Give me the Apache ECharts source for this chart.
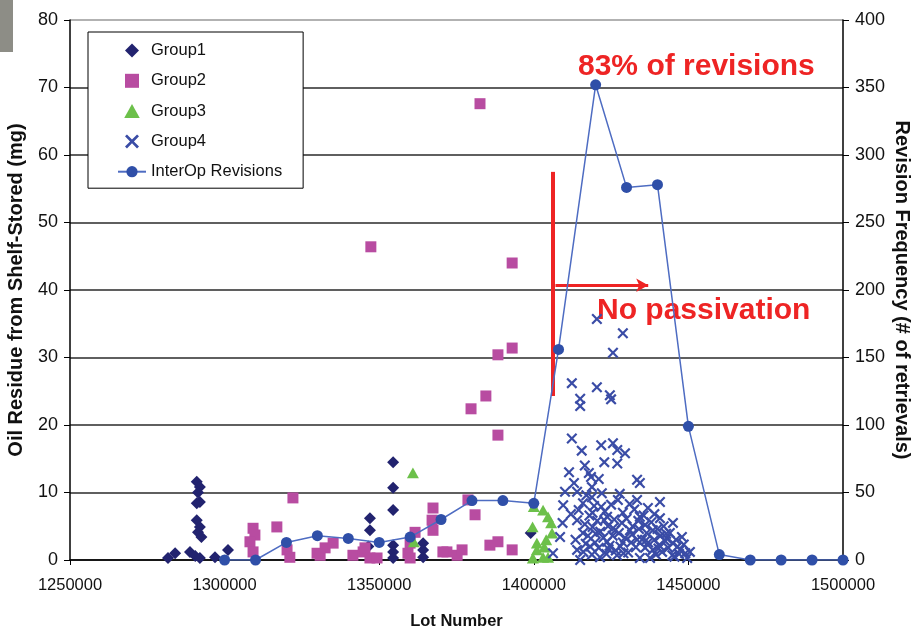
<!DOCTYPE html>
<html>
<head>
<meta charset="utf-8">
<title>Oil residue vs lot number</title>
<script src="https://cdn.jsdelivr.net/npm/echarts@6/dist/echarts.min.js"></script>
<style>
  html, body { margin: 0; padding: 0; background: #fff; }
  #chart { width: 922px; height: 632px; }
</style>
</head>
<body>
<div id="chart"></div>
<script>
// [lot number, oil residue mg]
const group1Data = [
  [1281700, 0.3], [1284000, 1.0], [1288800, 1.2], [1290500, 0.6], [1292000, 0.3], [1296900, 0.4], [1301100, 1.5],
  [1291000, 11.6], [1292000, 10.8], [1291400, 10.0], [1292000, 8.6], [1291000, 8.4], [1291000, 5.9],
  [1292000, 4.9], [1291400, 4.1], [1292500, 3.4],
  [1354500, 14.5], [1354500, 10.7], [1354500, 7.4], [1347000, 6.2], [1347000, 4.4], [1346500, 2.0],
  [1354500, 2.2], [1354500, 1.2], [1354500, 0.3], [1364200, 2.5], [1364200, 1.5], [1364200, 0.4],
  [1399000, 4.0]
]
const group2Data = [
  [1382600, 67.6], [1347300, 46.4], [1393000, 44.0], [1388400, 30.4], [1393000, 31.4], [1384500, 24.3],
  [1379700, 22.4], [1388400, 18.5], [1322100, 9.2], [1378700, 8.9], [1381000, 6.7], [1367400, 7.7],
  [1367100, 5.9], [1367400, 4.4], [1361600, 4.1], [1360000, 2.5], [1359300, 1.0], [1371900, 1.2],
  [1375200, 0.7], [1376800, 1.5], [1385800, 2.2], [1388400, 2.7], [1393000, 1.5], [1316900, 4.9],
  [1309200, 4.7], [1309800, 3.7], [1308200, 2.7], [1309200, 1.2], [1320200, 1.5], [1321100, 0.4],
  [1329900, 1.0], [1332500, 1.8], [1335100, 2.5], [1330900, 0.7], [1341500, 0.7], [1344800, 1.2],
  [1345400, 1.8], [1347000, 0.3], [1349300, 0.3], [1370600, 1.2], [1360000, 0.3]
]
const group3Data = [
  [1360900, 12.9], [1361200, 2.7], [1400000, 7.9], [1403000, 7.4], [1404600, 6.4], [1405600, 5.5],
  [1399600, 4.9], [1405900, 4.0], [1404000, 3.0], [1401000, 2.5], [1403400, 1.9], [1401000, 1.5],
  [1399700, 0.3], [1403000, 0.4], [1404600, 0.4]
]
const group4Data = [
  [1420400, 35.7], [1428800, 33.6], [1425600, 30.7], [1412300, 26.2], [1420400, 25.6], [1424600, 24.4],
  [1415000, 23.9], [1415000, 22.8], [1425000, 23.8],
  [1412300, 18.0], [1415500, 16.2], [1421800, 17.0], [1425600, 17.3], [1427000, 16.3], [1429500, 15.8],
  [1422800, 14.5], [1427000, 14.3], [1411400, 13.0], [1417800, 12.9], [1418500, 12.3], [1433400, 11.9],
  [1434300, 11.4], [1413000, 11.4], [1421000, 12.0], [1416500, 14.0],
  [1410100, 10.1], [1414000, 10.1], [1418800, 10.8], [1418800, 9.3], [1427200, 8.9], [1433400, 8.9],
  [1409500, 8.1], [1415900, 8.4], [1421800, 7.9], [1440800, 8.6], [1436900, 7.7], [1431000, 8.3], [1427800, 9.8],
  [1409300, 5.5], [1414000, 5.9], [1423700, 6.4], [1428800, 7.0], [1434300, 6.4], [1440800, 6.2],
  [1436000, 5.2], [1445000, 5.5], [1439000, 6.8],
  [1408500, 3.4], [1415900, 4.0], [1419000, 4.9], [1425600, 4.7], [1431100, 4.4], [1438500, 4.4],
  [1447900, 3.4], [1443000, 3.2],
  [1406200, 1.0], [1414000, 1.5], [1418200, 2.0], [1423700, 2.7], [1428800, 2.6], [1433400, 3.0],
  [1445000, 2.5], [1447300, 1.5], [1450500, 1.2], [1438500, 1.5],
  [1415000, 0.0], [1421400, 0.4], [1426900, 0.7], [1434300, 0.3], [1444800, 0.7], [1449600, 0.3], [1437600, 0.3],
  [1412000, 6.8], [1413500, 3.0], [1414500, 7.4], [1416000, 1.2], [1416500, 5.3], [1417000, 9.6],
  [1417500, 3.6], [1418000, 6.6], [1418800, 0.8], [1419500, 8.0], [1419800, 2.6], [1420500, 5.8],
  [1421000, 1.8], [1421500, 4.2], [1422000, 9.9], [1422500, 3.3], [1423000, 7.2], [1423500, 0.9],
  [1424000, 5.0], [1424500, 2.1], [1425000, 8.2], [1425500, 3.6], [1426000, 6.0], [1426500, 1.4],
  [1427500, 4.0], [1428000, 2.0], [1428500, 5.5], [1429500, 3.3], [1430000, 6.1], [1430500, 1.1],
  [1431500, 2.6], [1432000, 5.0], [1432500, 7.5], [1433000, 1.9], [1434000, 4.6], [1435000, 3.0],
  [1435500, 6.6], [1436000, 1.8], [1436500, 4.0], [1437000, 2.6], [1438000, 5.6], [1439000, 3.0],
  [1439500, 0.8], [1440000, 4.6], [1440500, 2.2], [1441000, 3.6], [1441500, 1.2], [1442000, 5.0],
  [1442500, 2.8], [1443500, 1.8], [1444000, 4.0], [1445500, 0.5], [1446000, 3.0], [1446500, 2.0],
  [1447000, 0.9], [1448500, 2.3], [1449000, 1.0],
  [1416800, 2.4], [1419000, 7.0], [1420000, 3.9], [1422800, 5.9], [1424200, 1.6], [1426300, 4.4],
  [1429000, 1.0], [1431800, 3.8], [1433800, 5.8], [1436200, 2.9], [1440300, 1.7], [1442800, 3.9]
]
// InterOp revisions (# of retrievals), right axis
const revLots = [1300000, 1310000, 1320000, 1330000, 1340000, 1350000, 1360000, 1370000, 1380000, 1390000,
  1400000, 1408000, 1420000, 1430000, 1440000, 1450000, 1460000, 1470000, 1480000, 1490000, 1500000]
const revValues = [0, 0, 13, 18, 16, 13, 17, 30, 44, 44, 42, 156, 352, 276, 278, 99, 4, 0, 0, 0, 0]

const seriesNames = ['Group1', 'Group2', 'Group3', 'Group4', 'InterOp Revisions']

const baseFont = "'Liberation Sans', Arial, sans-serif"
// path symbols so the legend keeps their aspect
const diamondPath = 'path://M5,0L10,5L5,10L0,5Z'
const squarePath = 'path://M0,0L10,0L10,10L0,10Z'
const trianglePath = 'path://M5,0L10,9L0,9Z'
const crossPath = 'path://M1.4,0L5,3.6L8.6,0L10,1.4L6.4,5L10,8.6L8.6,10L5,6.4L1.4,10L0,8.6L3.6,5L0,1.4Z'
const red = '#ee2424'

const chartInstance = echarts.init(document.getElementById('chart'))

// top gridline (80) is lighter in the original
const splitColors = ['#2a2a2a', '#2a2a2a', '#2a2a2a', '#2a2a2a', '#2a2a2a', '#2a2a2a', '#2a2a2a', '#2a2a2a', '#999']

const initOption = {
  animation: false,
  backgroundColor: '#fff',
  grid: { left: 70, right: 79, top: 20, bottom: 72, containLabel: false, outerBoundsMode: 'none' },
  legend: {
    orient: 'vertical',
    left: 88,
    top: 32,
    data: seriesNames,
    itemWidth: 28,
    itemHeight: 14,
    itemGap: 13.3,
    padding: [10, 21, 8, 29],
    backgroundColor: '#fff',
    borderColor: '#000',
    borderWidth: 1,
    borderRadius: 0,
    textStyle: { fontFamily: baseFont, fontSize: 16.5, color: '#111' }
  },
  xAxis: {
    type: 'value',
    min: 1250000,
    max: 1500000,
    interval: 50000,
    name: 'Lot Number',
    nameLocation: 'middle',
    nameGap: 53,
    nameMoveOverlap: false,
    nameTextStyle: { fontFamily: baseFont, fontWeight: 'bold', fontSize: 16.5, color: '#111' },
    axisLine: { show: true, onZero: false, lineStyle: { color: '#000', width: 1.5 } },
    axisTick: { show: true, length: 5, lineStyle: { color: '#000' } },
    axisLabel: {
      fontFamily: baseFont,
      fontSize: 16.5,
      color: '#111',
      margin: 17,
      formatter: (v) => String(v)
    },
    splitLine: { show: false }
  },
  yAxis: [
    {
      type: 'value',
      min: 0,
      max: 80,
      interval: 10,
      name: 'Oil Residue from Shelf-Stored (mg)',
      nameLocation: 'middle',
      nameRotate: 90,
      nameGap: 44,
      nameMoveOverlap: false,
      nameTextStyle: { fontFamily: baseFont, fontWeight: 'bold', fontSize: 20, color: '#111' },
      axisLine: { show: true, lineStyle: { color: '#000', width: 1.5 } },
      axisTick: { show: true, length: 6, lineStyle: { color: '#000' } },
      axisLabel: { fontFamily: baseFont, fontSize: 18, color: '#111', margin: 12 },
      splitLine: { show: true, lineStyle: { color: splitColors, width: 1.5 } }
    },
    {
      type: 'value',
      min: 0,
      max: 400,
      interval: 50,
      name: 'Revision Frequency (# of retrievals)',
      nameLocation: 'middle',
      nameRotate: -90,
      nameGap: 49,
      nameMoveOverlap: false,
      nameTextStyle: { fontFamily: baseFont, fontWeight: 'bold', fontSize: 20, color: '#111' },
      axisLine: { show: true, lineStyle: { color: '#000', width: 1.5 } },
      axisTick: { show: true, length: 6, lineStyle: { color: '#000' } },
      axisLabel: { fontFamily: baseFont, fontSize: 18, color: '#111', margin: 12 },
      splitLine: { show: false }
    }
  ],
  series: [
    {
      name: 'Group1',
      type: 'scatter',
      symbol: diamondPath,
      symbolSize: 12,
      symbolKeepAspect: true,
      itemStyle: { color: '#22236f', opacity: 1 },
      data: group1Data
    },
    {
      name: 'Group2',
      type: 'scatter',
      symbol: squarePath,
      symbolSize: 11,
      symbolKeepAspect: true,
      itemStyle: { color: '#b84ca1', opacity: 1 },
      data: group2Data
    },
    {
      name: 'Group3',
      type: 'scatter',
      symbol: trianglePath,
      symbolSize: 12,
      symbolKeepAspect: true,
      itemStyle: { color: '#6cc04a', opacity: 1 },
      data: group3Data
    },
    {
      name: 'Group4',
      type: 'scatter',
      symbol: crossPath,
      symbolSize: 11,
      symbolKeepAspect: true,
      itemStyle: { color: '#3a4ca6', opacity: 1 },
      data: group4Data,
      // passivation boundary and arrow
      markLine: {
        silent: true,
        symbol: ['none', 'none'],
        label: { show: false },
        data: [
          [
            { coord: [1406200, 57.5], lineStyle: { color: red, width: 4, type: 'solid' } },
            { coord: [1406200, 24.3] }
          ],
          [
            { coord: [1407000, 40.7], symbol: 'none', lineStyle: { color: red, width: 3, type: 'solid' } },
            { coord: [1437000, 40.7], symbol: 'arrow', symbolSize: [10, 12] }
          ]
        ]
      }
    },
    {
      name: 'InterOp Revisions',
      type: 'line',
      yAxisIndex: 1,
      symbol: 'circle',
      symbolSize: 11,
      showSymbol: true,
      lineStyle: { color: '#4e6cc2', width: 1.5 },
      itemStyle: { color: '#2f4fa8' },
      z: 5,
      data: revLots.map((lot, i) => [lot, revValues[i]])
    }
  ],
  graphic: [
    {
      type: 'rect',
      left: 0,
      top: 0,
      shape: { width: 13, height: 52 },
      style: { fill: '#8d8d86' }
    },
    {
      type: 'text',
      left: 578,
      top: 52,
      style: {
        text: '83% of revisions',
        fill: red,
        font: "bold 30px 'Liberation Sans', Arial, sans-serif"
      }
    },
    {
      type: 'text',
      left: 597,
      top: 296,
      style: {
        text: 'No passivation',
        fill: red,
        font: "bold 30px 'Liberation Sans', Arial, sans-serif"
      }
    }
  ]
}

chartInstance.setOption(initOption)
</script>
</body>
</html>
